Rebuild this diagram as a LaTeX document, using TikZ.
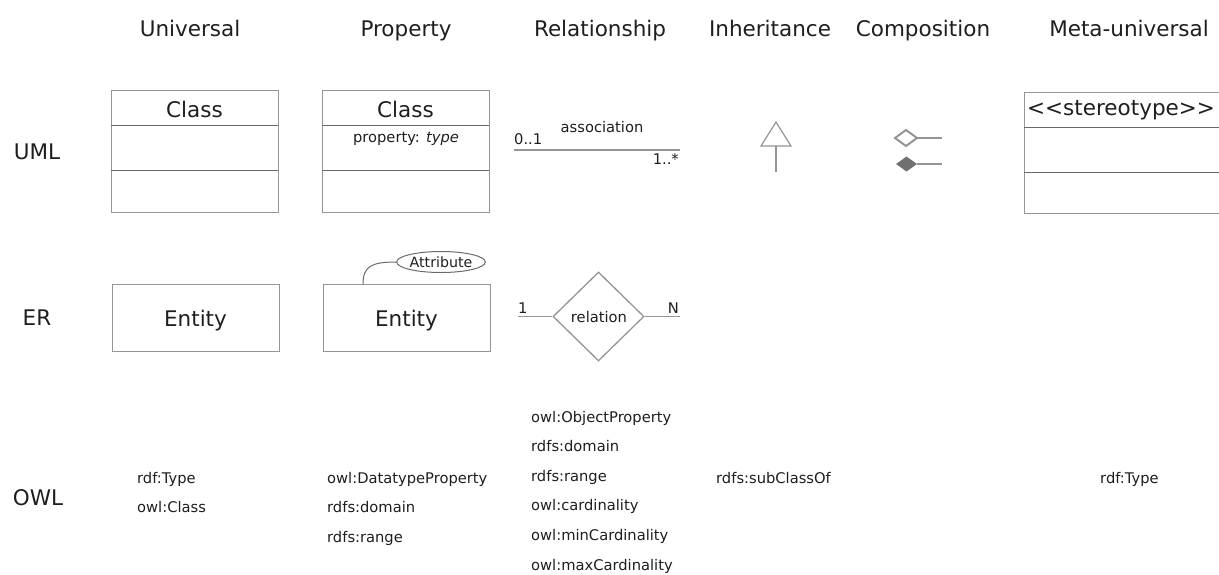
\documentclass[tikz,border=0pt]{standalone}
\usepackage{fontspec}
\setmainfont{DejaVu Sans}
\usetikzlibrary{shapes.geometric}
\definecolor{txt}{HTML}{1E1E1E}
\definecolor{ln}{HTML}{959595}
\definecolor{dv}{HTML}{6A6A6A}
\definecolor{fillgray}{HTML}{707070}
\tikzset{
  big/.style={font=\fontsize{21.5}{26}\selectfont, text=txt, inner sep=0pt},
  small/.style={font=\fontsize{14.7}{18}\selectfont, text=txt, inner sep=0pt},
  umlbox/.style={draw=ln, line width=1.3pt, rectangle, inner sep=0pt, anchor=north west},
  divider/.style={draw=dv, line width=0.9pt},
  conn/.style={draw=ln, line width=1.2pt},
  reldiamond/.style={diamond, draw=ln, line width=1.3pt, inner sep=0pt, minimum width=91pt, minimum height=89pt},
  attr/.style={ellipse, draw=dv, line width=1pt, inner sep=0pt, minimum width=84pt, minimum height=21pt, font=\fontsize{14.2}{17}\selectfont, text=txt}
}
\begin{document}
\begin{tikzpicture}[x=1pt,y=-1pt]
\useasboundingbox (0,0) rectangle (1219,574);
\clip (0,0) rectangle (1219,574);

% column headers
\node[big, anchor=base] (hU) at (190,36) {Universal};
\node[big, anchor=base] (hP) at (406,36) {Property};
\node[big, anchor=base] (hR) at (600,36) {Relationship};
\node[big, anchor=base] (hI) at (770,36) {Inheritance};
\node[big, anchor=base] (hC) at (923,36) {Composition};
\node[big, anchor=base] (hM) at (1129,36) {Meta-universal};

% row labels
\node[big, anchor=base] (rUML) at (37,159) {UML};
\node[big, anchor=base] (rER) at (37,325) {ER};
\node[big, anchor=base] (rOWL) at (38,505) {OWL};

% UML: Universal
\node[umlbox, minimum width=167pt, minimum height=122pt] (cls1) at (111,90) {};
\draw[divider] (111,125) -- (278,125);
\draw[divider] (111,170) -- (278,170);
\node[big, anchor=base] (cls1t) at (194.5,117) {Class};

% UML: Property
\node[umlbox, minimum width=167pt, minimum height=122pt] (cls2) at (322,90) {};
\draw[divider] (322,125) -- (489,125);
\draw[divider] (322,170) -- (489,170);
\node[big, anchor=base] (cls2t) at (405.5,117) {Class};
\node[small, anchor=base] (cls2p) at (406,142) {property: \textit{type}};

% UML: Relationship
\coordinate (asA) at (514,150);
\coordinate (asB) at (680,150);
\draw[conn] (asA) -- (asB);
\node[small, anchor=base] (asn) at (602,132) {association};
\node[small, anchor=base west] (m1) at (514,144) {0..1};
\node[small, anchor=base east] (m2) at (679,164) {1..*};

% UML: Inheritance
\coordinate (inhTop) at (776,122);
\coordinate (inhL) at (761,146);
\coordinate (inhR) at (791,146);
\coordinate (inhB) at (776,146);
\coordinate (inhEnd) at (776,172);
\draw[conn, line join=miter] (inhTop) -- (inhR) -- (inhL) -- cycle;
\draw[conn] (inhB) -- (inhEnd);

% UML: Composition
\coordinate (agL) at (895,138);
\coordinate (agT) at (906,130);
\coordinate (agR) at (917,138);
\coordinate (agD) at (906,146);
\coordinate (agEnd) at (942,138);
\draw[draw=ln, line width=2pt, line join=miter] (agL) -- (agT) -- (agR) -- (agD) -- cycle;
\draw[conn] (agR) -- (agEnd);
\coordinate (coL) at (896,164);
\coordinate (coT) at (906.5,156.5);
\coordinate (coR) at (917,164);
\coordinate (coD) at (906.5,171.5);
\coordinate (coEnd) at (942,164);
\fill[fillgray] (coL) -- (coT) -- (coR) -- (coD) -- cycle;
\draw[conn] (coR) -- (coEnd);

% UML: Meta-universal
\node[umlbox, minimum width=210pt, minimum height=121pt] (st) at (1024,92) {};
\draw[divider] (1024,127) -- (1234,127);
\draw[divider] (1024,172) -- (1234,172);
\node[big, anchor=base west] (stt) at (1027,115) {<{}<stereotype>{}>};

% ER: Universal
\node[umlbox, minimum width=167pt, minimum height=67pt] (ent1) at (112,284) {};
\node[big, anchor=base] (ent1t) at (195.5,326) {Entity};

% ER: Property
\node[umlbox, minimum width=167pt, minimum height=67pt] (ent2) at (323,284) {};
\node[big, anchor=base] (ent2t) at (406.5,326) {Entity};
\node[attr] (att) at (441,262) {Attribute};
\coordinate (attFoot) at (363,284);
\draw[draw=dv, line width=1pt] (attFoot) .. controls (363,266) and (372,262) .. (att.west);

% ER: Relationship
\node[reldiamond] (rel) at (598.5,316.5) {};
\node[small, anchor=base] (relt) at (599,322) {relation};
\coordinate (erL) at (518,316.5);
\coordinate (erR) at (680,316.5);
\draw[conn] (erL) -- (rel.west);
\draw[conn] (rel.east) -- (erR);
\node[small, anchor=base west] (er1) at (518,313) {1};
\node[small, anchor=base east] (erN) at (679,313) {N};

% OWL
\node[small, anchor=base west] (o1a) at (137,483) {rdf:Type};
\node[small, anchor=base west] (o1b) at (137,512.6) {owl:Class};

\node[small, anchor=base west] (o2a) at (327,483) {owl:DatatypeProperty};
\node[small, anchor=base west] (o2b) at (327,512.6) {rdfs:domain};
\node[small, anchor=base west] (o2c) at (327,542.2) {rdfs:range};

\node[small, anchor=base west] (o3a) at (531,422) {owl:ObjectProperty};
\node[small, anchor=base west] (o3b) at (531,451.6) {rdfs:domain};
\node[small, anchor=base west] (o3c) at (531,481.2) {rdfs:range};
\node[small, anchor=base west] (o3d) at (531,510.8) {owl:cardinality};
\node[small, anchor=base west] (o3e) at (531,540.4) {owl:minCardinality};
\node[small, anchor=base west] (o3f) at (531,570) {owl:maxCardinality};

\node[small, anchor=base west] (o4a) at (716,483) {rdfs:subClassOf};
\node[small, anchor=base west] (o6a) at (1100,483) {rdf:Type};
\end{tikzpicture}
\end{document}
